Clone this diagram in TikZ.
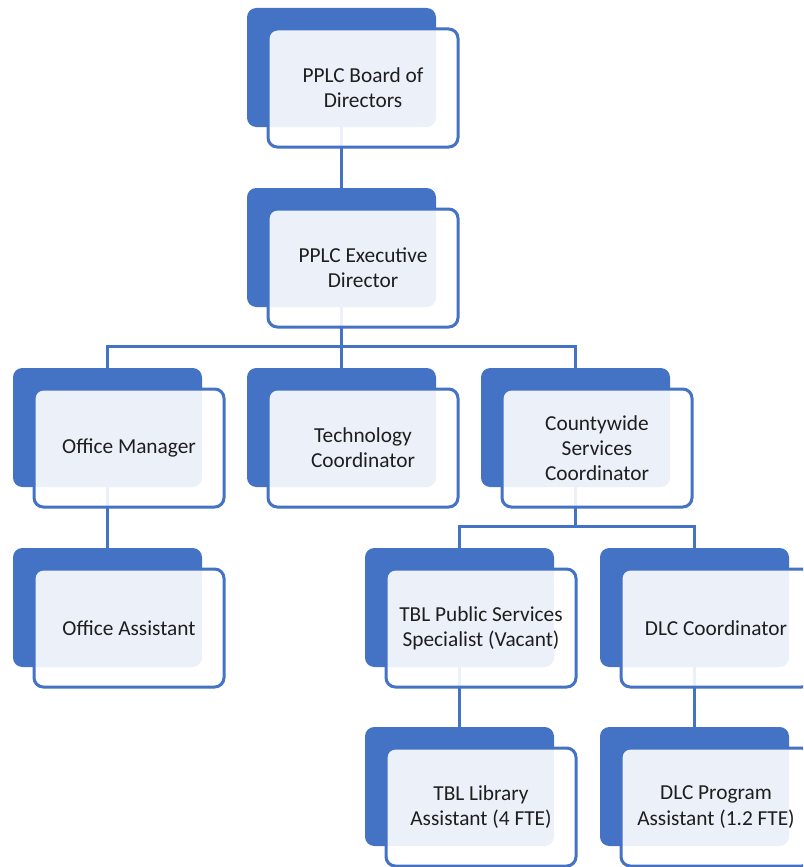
\documentclass[tikz,border=0pt]{standalone}
\usepackage{fontspec}
\setmainfont{Carlito}
\definecolor{orgblue}{HTML}{4472C4}
\definecolor{txt}{HTML}{1E1E1E}
\tikzset{
  backbox/.style={fill=orgblue, rounded corners=7pt, minimum width=141.75pt, minimum height=89.25pt, inner sep=0pt, outer sep=0pt, anchor=north west},
  frontbox/.style={draw=orgblue, line width=2.25pt, fill=white, fill opacity=0.9, text opacity=1, rounded corners=7pt, minimum width=142.5pt, minimum height=88.5pt, inner sep=0pt, outer sep=0pt, anchor=north west, align=center, text=txt, font=\fontsize{16}{19}\selectfont},
  link/.style={draw=orgblue, line width=2.25pt}
}
\newcommand\orgbox[4]{%
  \node[backbox] (b#1) at (#2,#3) {};
  \node[frontbox] (f#1) at ([xshift=15.75pt,yshift=-15.75pt]#2,#3) {#4};
}
\begin{document}
\begin{tikzpicture}[x=0.75pt,y=-0.75pt]
\useasboundingbox (0,0) rectangle (803,867);
\clip (0,0) rectangle (803,867);
% anchor frames of the back boxes (used by the connectors)
\path
  (247,8) node[backbox, fill=none] (c1) {}
  (247,188) node[backbox, fill=none] (c2) {}
  (13,368) node[backbox, fill=none] (c3) {}
  (247,368) node[backbox, fill=none] (c4) {}
  (481,368) node[backbox, fill=none] (c5) {}
  (13,548) node[backbox, fill=none] (c6) {}
  (365,548) node[backbox, fill=none] (c7) {}
  (600,548) node[backbox, fill=none] (c8) {}
  (365,727) node[backbox, fill=none] (c9) {}
  (600,727) node[backbox, fill=none] (c10) {};
% connectors
\coordinate (bus1) at (342,346);
\coordinate (bus2) at (577,526);
\draw[link] (c1.center) -- (c2.center);
\draw[link] (c2.center) -- (c2.center |- bus1);
\draw[link] (c3.north) |- (bus1) -| (c5.north);
\draw[link] (c4.north) -- (c4.north |- bus1);
\draw[link] (c5.center) -- (c5.center |- bus2);
\draw[link] (c7.north) |- (bus2) -| (c8.north);
\draw[link] (c3.center) -- (c6.center);
\draw[link] (c7.center) -- (c9.center);
\draw[link] (c8.center) -- (c10.center);
% boxes
\orgbox{1}{247}{8}{PPLC Board of\\Directors}
\orgbox{2}{247}{188}{PPLC Executive\\Director}
\orgbox{3}{13}{368}{Office Manager}
\orgbox{4}{247}{368}{Technology\\Coordinator}
\orgbox{5}{481}{368}{Countywide\\Services\\Coordinator}
\orgbox{6}{13}{548}{Office Assistant}
\orgbox{7}{365}{548}{TBL Public Services\\Specialist (Vacant)}
\orgbox{8}{600}{548}{DLC Coordinator}
\orgbox{9}{365}{727}{TBL Library\\Assistant (4 FTE)}
\orgbox{10}{600}{727}{DLC Program\\Assistant (1.2 FTE)}
\end{tikzpicture}
\end{document}
